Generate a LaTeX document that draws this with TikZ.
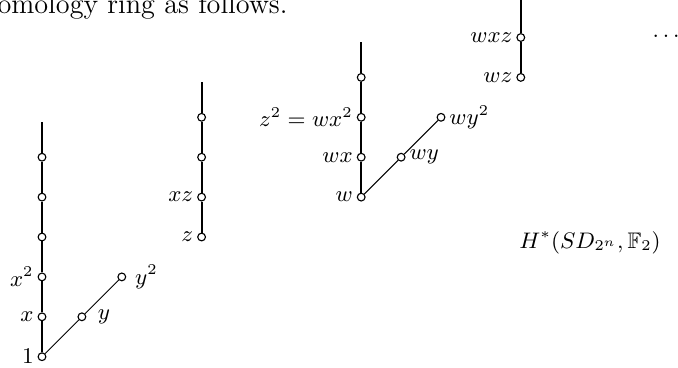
\documentclass[tikz,border=0pt]{standalone}
\usepackage{amssymb}
\begin{document}
\begin{tikzpicture}[x=0.4pt,y=-0.4pt,
  every node/.style={font=\fontsize{9}{11}\selectfont},
  pt/.style={circle,draw,fill=white,line width=0.45pt,inner sep=0pt,minimum size=3.1pt},
  lab/.style={inner sep=1.4pt},
  vline/.style={line width=0.8pt},
  dline/.style={line width=0.4pt}]
\useasboundingbox (0,0) rectangle (678,367);
% text of the page
\node[anchor=base west,inner sep=0pt,font=\fontsize{11.3}{13}\selectfont] (txt) at (-3,13.5) {omology ring as follows.};
% column 1
\node[pt,label={[lab]left:$1$}] (c0) at (42,356.7) {};
\node[pt,label={[lab]left:$x$}] (c1) at (42,316.8) {};
\node[pt,label={[lab]left:$x^2$}] (c2) at (42,276.9) {};
\node[pt] (c3) at (42,237.0) {};
\node[pt] (c4) at (42,197.1) {};
\node[pt] (c5) at (42,157.2) {};
\coordinate (ctop) at (42,122);
\node[pt,label={[lab,label distance=3pt]right:$y$}] (y1) at (81.9,316.8) {};
\node[pt,label={[lab,label distance=2pt]right:$y^2$}] (y2) at (121.8,276.9) {};
\draw[vline] (c0)--(c1) (c1)--(c2) (c2)--(c3) (c3)--(c4) (c4)--(c5) (c5)--(ctop);
\draw[dline] (c0)--(y1) (y1)--(y2);
% column 2
\node[pt,label={[lab]left:$z$}] (z0) at (201.6,237.0) {};
\node[pt,label={[lab]left:$xz$}] (z1) at (201.6,197.1) {};
\node[pt] (z2) at (201.6,157.2) {};
\node[pt] (z3) at (201.6,117.3) {};
\coordinate (ztop) at (201.6,82);
\draw[vline] (z0)--(z1) (z1)--(z2) (z2)--(z3) (z3)--(ztop);
% column 3
\node[pt,label={[lab]left:$w$}] (w0) at (361.2,197.1) {};
\node[pt,label={[lab]left:$wx$}] (w1) at (361.2,157.2) {};
\node[pt,label={[lab]left:$z^2=wx^2$}] (w2) at (361.2,117.3) {};
\node[pt] (w3) at (361.2,77.4) {};
\coordinate (wtop) at (361.2,42);
\node[pt,label={[lab]right:$wy$}] (wy1) at (401.1,157.2) {};
\node[pt,label={[lab]right:$wy^2$}] (wy2) at (441,117.3) {};
\draw[vline] (w0)--(w1) (w1)--(w2) (w2)--(w3) (w3)--(wtop);
\draw[dline] (w0)--(wy1) (wy1)--(wy2);
% column 4
\node[pt,label={[lab]left:$wz$}] (v0) at (520.8,77.4) {};
\node[pt,label={[lab]left:$wxz$}] (v1) at (520.8,37.5) {};
\coordinate (vtop) at (520.8,-2);
\draw[vline] (v0)--(v1) (v1)--(vtop);
% dots and title
\node[anchor=base,inner sep=0pt] (dots) at (666,37) {$\dots$};
\node[anchor=base,inner sep=0pt] (title) at (590,248.3) {$H^*(SD_{2^n},\mathbb{F}_2)$};
\end{tikzpicture}
\end{document}
